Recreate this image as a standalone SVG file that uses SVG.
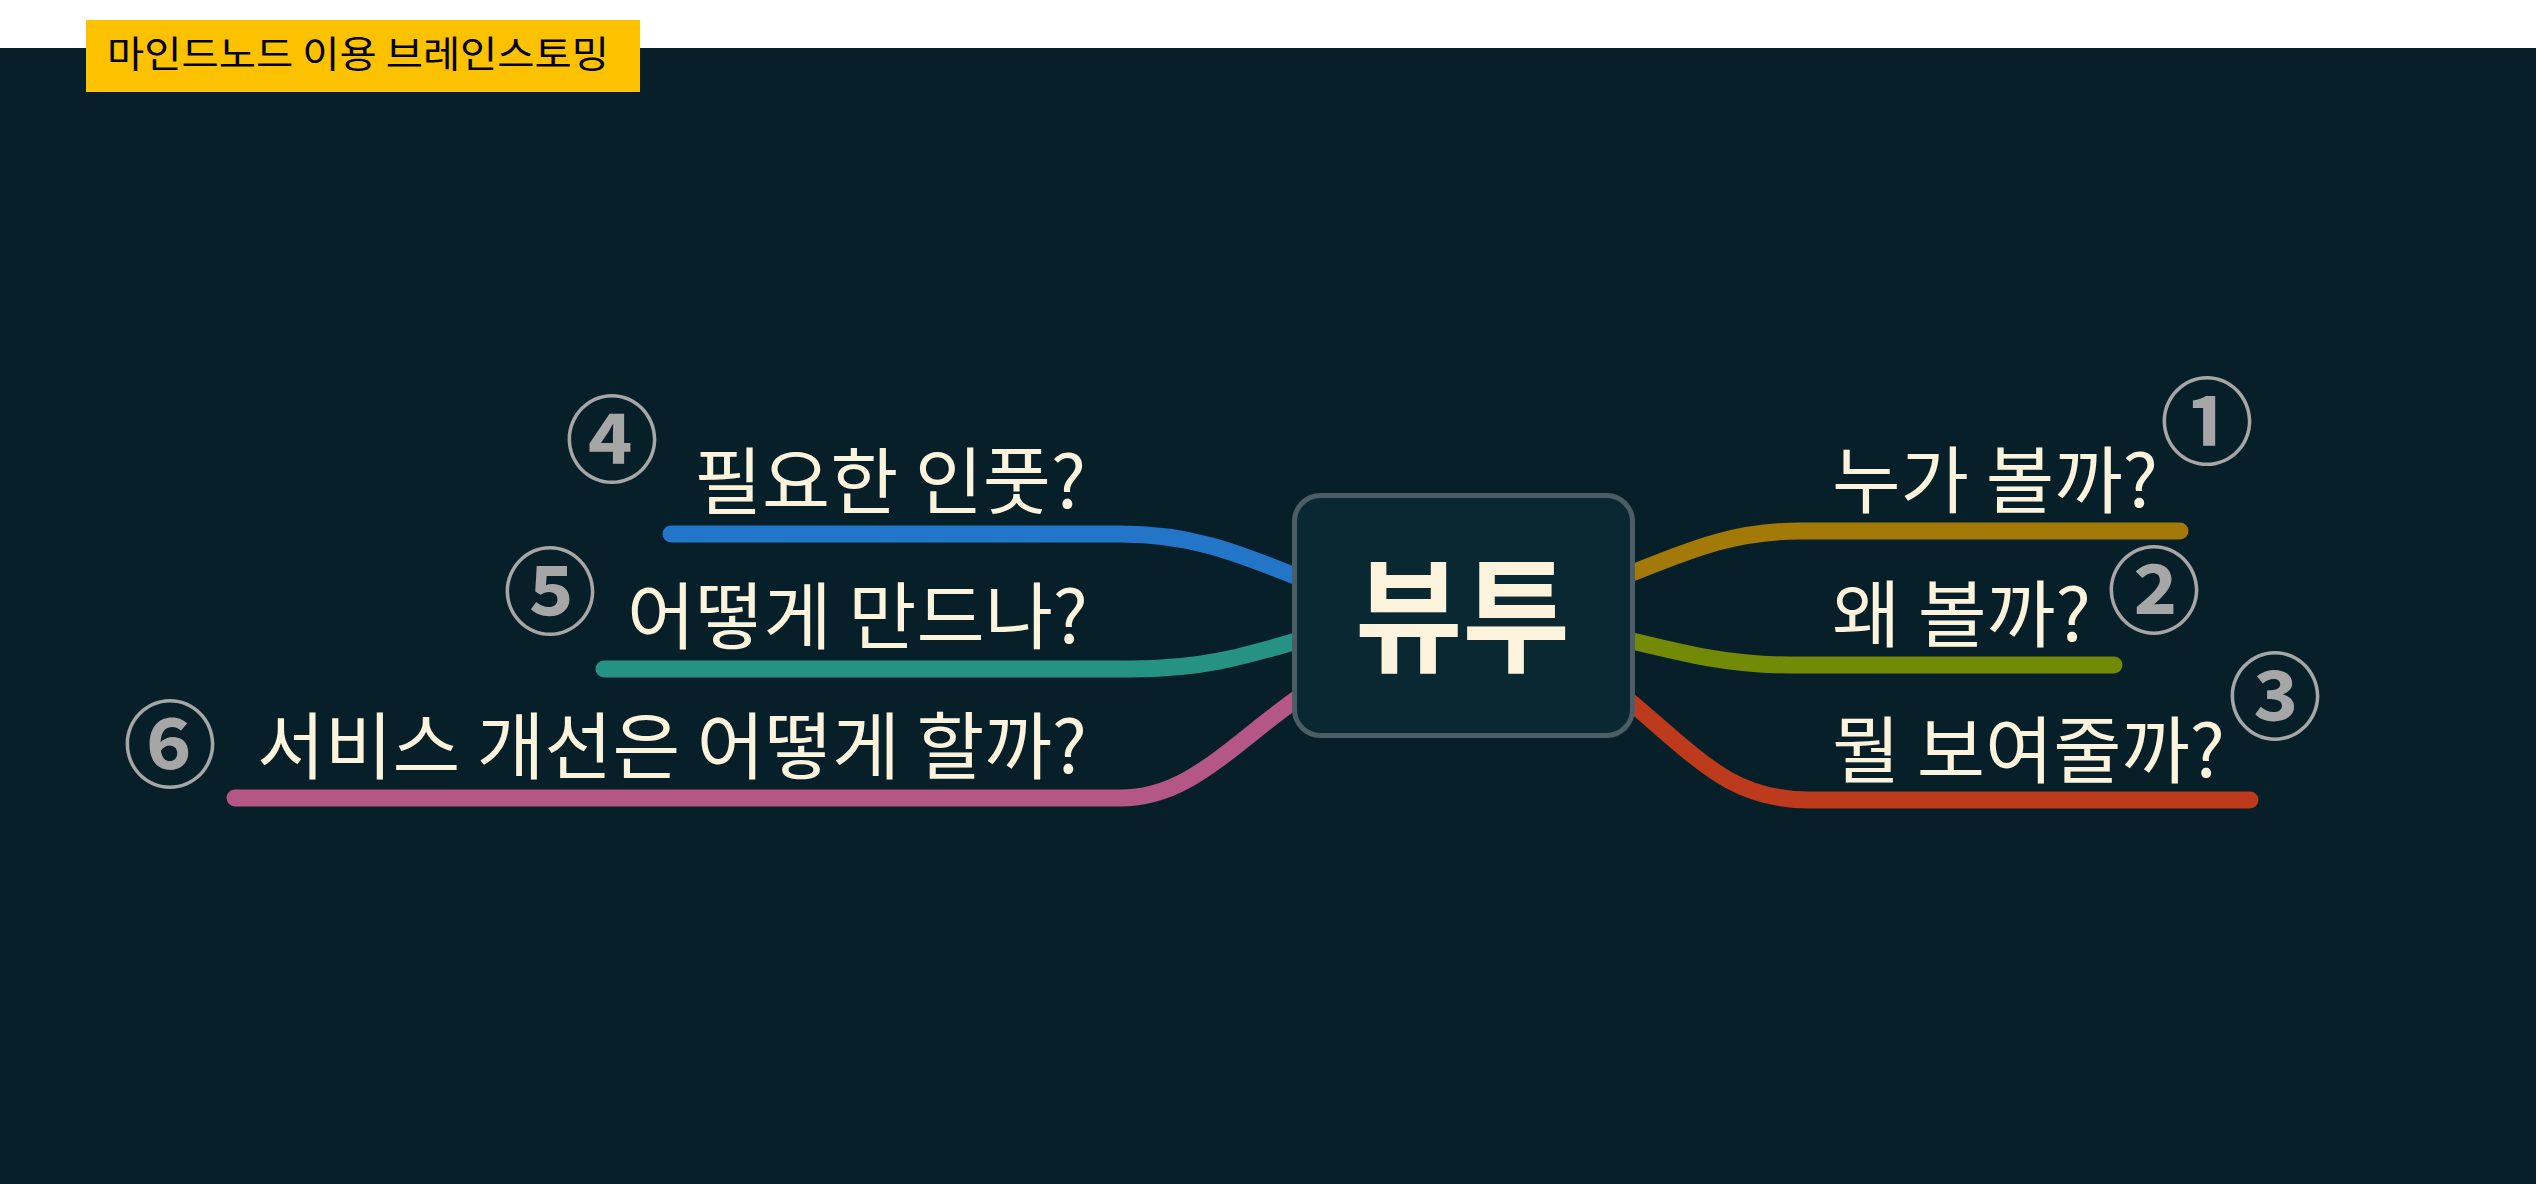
<svg xmlns="http://www.w3.org/2000/svg" width="2536" height="1184" viewBox="0 0 2536 1184">
<style>
.lbl{font-family:"Noto Sans CJK KR","Noto Sans",sans-serif;font-size:73px;fill:#fbf3dc}
.num{font-family:"Noto Sans CJK KR","DejaVu Sans",sans-serif;font-size:94px;font-weight:bold;fill:#a6a6a6;text-anchor:middle}
.br{fill:none;stroke-width:17;stroke-linecap:round}
</style>
<rect x="0" y="0" width="2536" height="1184" fill="#071f28"/>
<rect x="0" y="0" width="2536" height="48" fill="#ffffff"/>
<g id="title">
<rect x="86" y="20" width="554" height="72" fill="#fcc200"/>
<text x="107" y="68" font-family="'Noto Sans CJK KR',sans-serif" font-size="37" fill="#000" textLength="502" lengthAdjust="spacingAndGlyphs">마인드노드 이용 브레인스토밍</text>
</g>
<g id="connectors">
<path class="br" stroke="#a37908" d="M1620,578 C1700,545 1740,531 1800,531 L2180,531"/>
<path class="br" stroke="#728a05" d="M1620,638 C1690,655 1730,665 1790,665 L2114,665"/>
<path class="br" stroke="#bd3b1c" d="M1620,693 C1700,760 1730,800 1810,800 L2250,800"/>
<path class="br" stroke="#2375c8" d="M1310,582 C1230,550 1190,534 1120,534 L671,534"/>
<path class="br" stroke="#259283" d="M1310,637 C1240,658 1200,669 1130,669 L604,669"/>
<path class="br" stroke="#b55786" d="M1305,693 C1230,745 1190,798 1120,798 L235,798"/>
</g>
<g id="center">
<rect x="1294.5" y="495.5" width="338" height="240" rx="26" fill="#0a2831" stroke="#4b5e66" stroke-width="5"/>
<text x="1355" y="662" font-family="'Noto Sans CJK KR',sans-serif" font-weight="bold" font-size="124" fill="#fbf3dc" textLength="215" lengthAdjust="spacingAndGlyphs">뷰투</text>
</g>
<g id="n1"><text class="lbl" x="1832" y="507" textLength="326" lengthAdjust="spacingAndGlyphs">누가 볼까?</text><text class="num" x="2207" y="457">①</text></g>
<g id="n2"><text class="lbl" x="1832" y="641" textLength="259" lengthAdjust="spacingAndGlyphs">왜 볼까?</text><text class="num" x="2154" y="626">②</text></g>
<g id="n3"><text class="lbl" x="1832" y="777" textLength="393" lengthAdjust="spacingAndGlyphs">뭘 보여줄까?</text><text class="num" x="2275" y="732">③</text></g>
<g id="n4"><text class="lbl" x="694" y="508" textLength="392" lengthAdjust="spacingAndGlyphs">필요한 인풋?</text><text class="num" x="612" y="475">④</text></g>
<g id="n5"><text class="lbl" x="627" y="643" textLength="461" lengthAdjust="spacingAndGlyphs">어떻게 만드나?</text><text class="num" x="550" y="627">⑤</text></g>
<g id="n6"><text class="lbl" x="257" y="773" textLength="830" lengthAdjust="spacingAndGlyphs">서비스 개선은 어떻게 할까?</text><text class="num" x="170" y="780">⑥</text></g>
</svg>
